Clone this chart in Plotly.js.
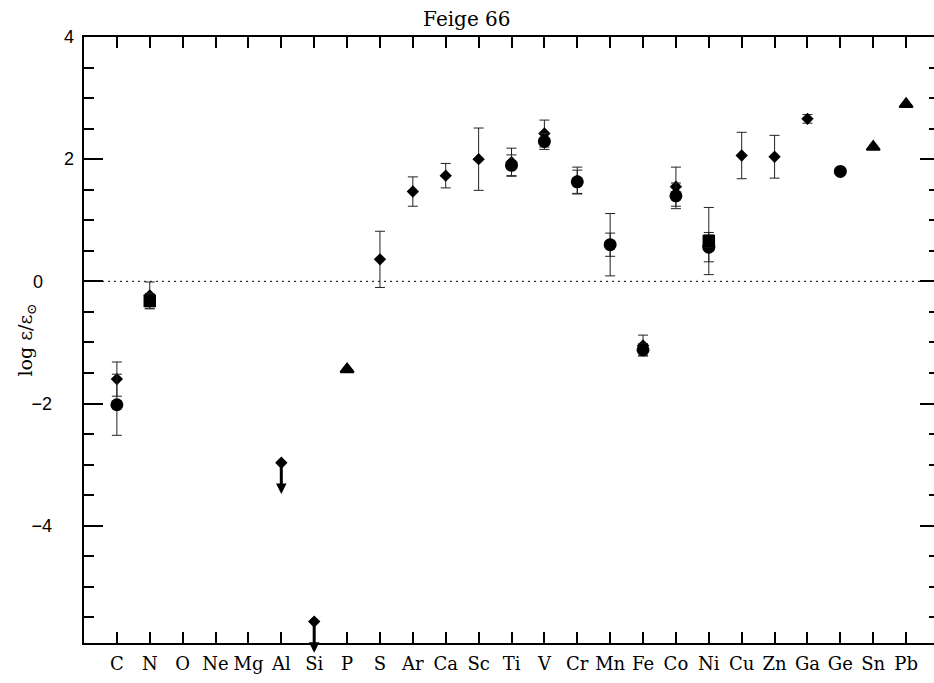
<!DOCTYPE html>
<html>
<head>
<meta charset="utf-8">
<script src="https://cdn.plot.ly/plotly-3.0.1.min.js"></script>
<style>
html,body{margin:0;padding:0;overflow:hidden;background:#fff;}
#chart{width:945px;height:683px;}
</style>
</head>
<body>
<div id="chart"></div>
<script>
// Elements along the x axis
const elements = ['C','N','O','Ne','Mg','Al','Si','P','S','Ar','Ca','Sc','Ti','V','Cr','Mn','Fe','Co','Ni','Cu','Zn','Ga','Ge','Sn','Pb'];

// Diamonds (with symmetric errors)
const diamondEl  = ['C','N','S','Ar','Ca','Sc','Ti','V','Cr','Mn','Fe','Co','Ni','Cu','Zn','Ga'];
const diamondVal = [-1.60,-0.23,0.36,1.47,1.73,2.00,1.95,2.42,1.65,0.60,-1.05,1.55,0.66,2.06,2.04,2.66];
const diamondErr = [0.28,0.22,0.46,0.24,0.20,0.51,0.23,0.22,0.22,0.51,0.17,0.32,0.55,0.38,0.35,0.07];

// Diamonds that are upper limits
const limitEl  = ['Al','Si'];
const limitVal = [-2.97,-5.57];
const limitArrow = 0.51;

// Circles
const circleEl  = ['C','Ti','V','Cr','Mn','Fe','Co','Ni','Ge'];
const circleVal = [-2.02,1.90,2.29,1.63,0.60,-1.12,1.40,0.56,1.80];
const circleErr = [0.50,0.17,0.13,0.19,0.19,0.10,0.21,0.24,0];

// Squares
const squareEl  = ['N','Ni'];
const squareVal = [-0.32,0.66];
const squareErr = [0.12,0.10];

// Triangles
const triEl  = ['P','Sn','Pb'];
const triVal = [-1.44,2.20,2.90];

// y tick labels
const yLabelsTop = [2,4];
const yLabelsBottom = [-4,-2,0];
const yLabelsBottomText = ['\u22124','\u22122','0\u2002'];

const idx = arr => arr.map(e => elements.indexOf(e));
const errStyle = {color:'#222', thickness:1, width:5};

const traces = [
  {x: idx(diamondEl), y: diamondVal, type:'scatter', mode:'markers',
   marker:{symbol:'diamond', size:9.5, color:'black'},
   error_y:Object.assign({type:'data', array: diamondErr, visible:true}, errStyle), cliponaxis:false},
  {x: idx(limitEl), y: limitVal, type:'scatter', mode:'markers',
   marker:{symbol:'diamond', size:9.5, color:'black'}, cliponaxis:false},
  {x: idx(circleEl), y: circleVal, type:'scatter', mode:'markers',
   marker:{symbol:'circle', size:13, color:'black'},
   error_y:Object.assign({type:'data', array: circleErr, visible:true}, errStyle), cliponaxis:false},
  {x: idx(squareEl), y: squareVal, type:'scatter', mode:'markers',
   marker:{symbol:'square', size:12.5, color:'black'},
   error_y:Object.assign({type:'data', array: squareErr, visible:true}, errStyle), cliponaxis:false},
  {x: idx(triEl), y: triVal, type:'scatter', mode:'markers',
   marker:{symbol:'triangle-up', size:11.5, color:'black', line:{color:'black', width:2}}, cliponaxis:false},
  // invisible traces that activate the overlay axes carrying the tick labels
  {x:[0], y:[0], yaxis:'y2', type:'scatter', mode:'markers', marker:{opacity:0}, hoverinfo:'skip'},
  {x:[0], y:[0], yaxis:'y3', type:'scatter', mode:'markers', marker:{opacity:0}, hoverinfo:'skip'}
];

const annotations = limitEl.map((el, i) => ({
  x: elements.indexOf(el), y: limitVal[i] - limitArrow,
  ax: elements.indexOf(el), ay: limitVal[i],
  xref:'x', yref:'y', axref:'x', ayref:'y',
  text:'', font:{size:1}, showarrow:true, arrowhead:2, arrowsize:0.7,
  arrowwidth:3, arrowcolor:'black', standoff:0
}));

const yRange = [-5.92, 4];
const labelAxis = (vals, text, standoff) => ({
  range: yRange, overlaying:'y', side:'left', tickmode:'array', tickvals: vals, ticktext: text,
  ticks:'', showline:false, showgrid:false, zeroline:false, fixedrange:true,
  ticklabelstandoff: standoff,
  tickfont:{family:'Liberation Sans', size:18, color:'black'}
});

const layout = {
  width:945, height:683,
  margin:{l:84, r:6, t:37, b:40},
  paper_bgcolor:'white', plot_bgcolor:'white',
  showlegend:false,
  title:{text:'Feige 66', font:{family:'DejaVu Serif', size:20, color:'black'},
         x:0.494, xref:'container', xanchor:'center', y:1-19/683, yref:'container', yanchor:'middle'},
  xaxis:{range:[-1,25], tickmode:'array', tickvals: elements.map((e,i)=>i), ticktext: elements,
         ticks:'inside', ticklen:11, tickwidth:2, tickcolor:'black', mirror:'ticks',
         showline:true, linewidth:2, linecolor:'black', showgrid:false, zeroline:false,
         tickfont:{family:'DejaVu Serif', size:18, color:'black'}, ticklabelstandoff:3},
  yaxis:{range:yRange, tickmode:'linear', tick0:0, dtick:2, showticklabels:false,
         ticks:'inside', ticklen:19, tickwidth:2, tickcolor:'black', mirror:'ticks',
         minor:{dtick:0.5, tick0:0, ticks:'inside', ticklen:10, tickwidth:2, tickcolor:'black', showgrid:false},
         showline:true, linewidth:2, linecolor:'black', showgrid:false, zeroline:false,
         title:{text:'log \u03b5/\u03b5<sub>\u2299</sub>', font:{family:'DejaVu Serif', size:19, color:'black'}, standoff:44}},
  yaxis2: labelAxis(yLabelsTop, yLabelsTop.map(String), 9),
  yaxis3: labelAxis(yLabelsBottom, yLabelsBottomText, 31),
  shapes:[{type:'line', xref:'paper', x0:0, x1:1, yref:'y', y0:0, y1:0,
           line:{color:'black', width:1, dash:'2px,4px'}, layer:'below'}],
  annotations: annotations
};

Plotly.newPlot('chart', traces, layout, {staticPlot:true, displayModeBar:false});
</script>
</body>
</html>
